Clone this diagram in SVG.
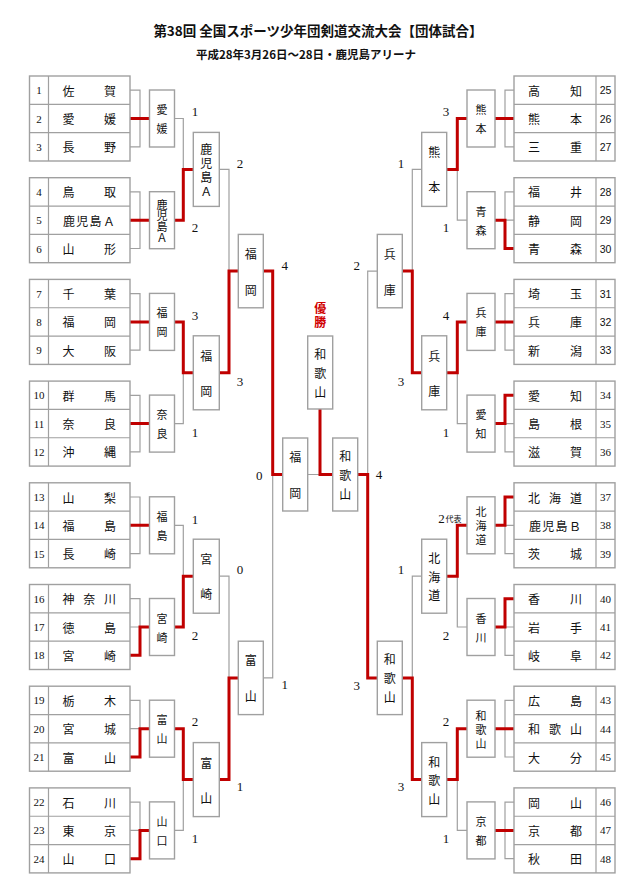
<svg xmlns="http://www.w3.org/2000/svg" xmlns:xlink="http://www.w3.org/1999/xlink" width="640" height="893" viewBox="0 0 640 893">
<style>
.g{fill:none;stroke:#a0a0a0;stroke-width:1.2}
.r{fill:none;stroke:#c00000;stroke-width:3}
.bx{fill:#fff;stroke:#a0a0a0;stroke-width:1.4}
.tb{fill:#fff;stroke:#a0a0a0;stroke-width:1.4}
.jp{font-family:"Noto Sans CJK JP",sans-serif;font-size:12px;fill:#111;text-anchor:middle;dominant-baseline:central}
.s11{font-size:11px}
.num{font-family:"Liberation Serif",serif;font-size:11px;fill:#111;text-anchor:middle;dominant-baseline:central}
.ns{font-family:"Liberation Sans",sans-serif;font-size:10.5px}
.sc{font-family:"Liberation Serif",serif;font-size:13px;fill:#111;text-anchor:middle;dominant-baseline:central}
.ttl{font-family:"Noto Sans CJK JP",sans-serif;font-weight:700;fill:#111;text-anchor:middle}
</style>
<defs>
<g id="tl"><rect class="tb" x="0" y="0" width="100.5" height="85"/><path class="g" d="M0 28.33H100.5M0 56.67H100.5M19 0V85"/></g>
<g id="tr"><rect class="tb" x="0" y="0" width="101" height="85"/><path class="g" d="M0 28.33H101M0 56.67H101M82 0V85"/></g>
</defs>

<g id="title">
<text class="ttl" x="318" y="36" font-size="13.5">第38回 全国スポーツ少年団剣道交流大会【団体試合】</text>
<text class="ttl" x="306" y="59" font-size="11.5">平成28年3月26日～28日・鹿児島アリーナ</text>
</g>

<g id="connectors">
<path class="g" d="M130 90.2H140V146.8H130M130 118.5H149.5
M130 191.9H140V248.5H130M130 220.2H149.5
M130 293.6H140V350.2H130M130 321.9H149.5
M130 395.3H140V451.9H130M130 423.6H149.5
M130 497H140V553.6H130M130 525.3H149.5
M130 598.7H140V655.3H130M130 627H149.5
M130 700.4H140V757H130M130 728.7H149.5
M130 802.1H140V858.7H130M130 830.4H149.5"/>
<path class="g" d="M514 90.2H505V146.8H514M514 118.5H495
M514 191.9H505V248.5H514M514 220.2H495
M514 293.6H505V350.2H514M514 321.9H495
M514 395.3H505V451.9H514M514 423.6H495
M514 497H505V553.6H514M514 525.3H495
M514 598.7H505V655.3H514M514 627H495
M514 700.4H505V757H514M514 728.7H495
M514 802.1H505V858.7H514M514 830.4H495"/>
<path class="g" d="M174.5 118.5H183.3V220.2H174.5M183.3 169.4H193.3
M174.5 321.9H183.3V423.6H174.5M183.3 372.8H193.3
M174.5 525.3H183.3V627H174.5M183.3 576.2H193.3
M174.5 728.7H183.3V830.4H174.5M183.3 779.6H193.3
M219.3 169.4H229V372.8H219.3M229 271.1H238.3
M219.3 576.2H229V779.6H219.3M229 677.9H238.3
M263.3 271.1H272.7V677.9H263.3M272.7 474.5H282.7
M307.7 474.5H320"/>
<path class="g" d="M467 118.5H457.3V220.2H467M457.3 169.4H446.7
M467 321.9H457.3V423.6H467M457.3 372.8H446.7
M467 525.3H457.3V627H467M457.3 576.2H446.7
M467 728.7H457.3V830.4H467M457.3 779.6H446.7
M421.7 169.4H412.3V372.8H421.7M412.3 271.1H402.3
M421.7 576.2H412.3V779.6H421.7M412.3 677.9H402.3
M377.3 271.1H367.7V677.9H377.3M367.7 474.5H357.7"/>
<path class="r" d="M130 118.5H149.5M130 220.2H149.5M130 321.9H149.5M130 423.6H149.5M130 525.3H149.5
M130 655.3H140V627H149.5M130 757H140V728.7H149.5M130 858.7H140V830.4H149.5
M174.5 220.2H183.3V169.4H193.3M174.5 321.9H183.3V372.8H193.3M174.5 627H183.3V576.2H193.3M174.5 728.7H183.3V779.6H193.3
M219.3 372.8H229V271.1H238.3M219.3 779.6H229V677.9H238.3
M263.3 271.1H272.7V474.5H282.7"/>
<path class="r" d="M514 118.5H495M514 248.5H505V220.2H495M514 321.9H495M514 395.3H505V423.6H495M514 497H505V525.3H495M514 598.7H505V627H495M514 728.7H495M514 830.4H495
M467 118.5H457.3V169.4H446.7M467 321.9H457.3V372.8H446.7M467 525.3H457.3V576.2H446.7M467 728.7H457.3V779.6H446.7
M421.7 372.8H412.3V271.1H402.3M421.7 779.6H412.3V677.9H402.3
M377.3 677.9H367.7V474.5H357.7
M332.7 474.5H320V409"/>
</g>

<g id="scores">
<text class="sc" x="195" y="111.5">1</text><text class="sc" x="195" y="227.5">2</text>
<text class="sc" x="195" y="315">3</text><text class="sc" x="195" y="432">1</text>
<text class="sc" x="195" y="519">1</text><text class="sc" x="195" y="635">2</text>
<text class="sc" x="195" y="721.7">2</text><text class="sc" x="195" y="838.4">1</text>
<text class="sc" x="240" y="163">2</text><text class="sc" x="240" y="381.7">3</text>
<text class="sc" x="240" y="569">0</text><text class="sc" x="240" y="786.7">1</text>
<text class="sc" x="284.7" y="265.7">4</text><text class="sc" x="284.7" y="684.3">1</text>
<text class="sc" x="259.3" y="475">0</text><text class="sc" x="379" y="474.7">4</text>
<text class="sc" x="446" y="111.5">3</text><text class="sc" x="446" y="227.5">1</text>
<text class="sc" x="446" y="315">4</text><text class="sc" x="446" y="432">1</text>
<text class="sc" x="441.5" y="518">2</text><text class="jp" x="453.5" y="518.5" style="font-size:8px">代表</text>
<text class="sc" x="446" y="635">2</text>
<text class="sc" x="446" y="721.7">2</text><text class="sc" x="446" y="838.4">1</text>
<text class="sc" x="401" y="163">1</text><text class="sc" x="401" y="381">3</text>
<text class="sc" x="401" y="569.3">1</text><text class="sc" x="401" y="786.7">3</text>
<text class="sc" x="356.7" y="265">2</text><text class="sc" x="356.7" y="685">3</text>
</g>

<g id="teams-01-03"><use xlink:href="#tl" x="29.5" y="76"/>
<text class="num" x="39" y="90.2">1</text><text class="num" x="39" y="118.5">2</text><text class="num" x="39" y="146.8">3</text>
<text class="jp" x="68.5 110" y="90.2">佐賀</text><text class="jp" x="68.5 110" y="118.5">愛媛</text><text class="jp" x="68.5 110" y="146.8">長野</text></g>
<g id="teams-04-06"><use xlink:href="#tl" x="29.5" y="177.7"/>
<text class="num" x="39" y="191.9">4</text><text class="num" x="39" y="220.2">5</text><text class="num" x="39" y="248.5">6</text>
<text class="jp" x="68.5 110" y="191.9">鳥取</text><text class="jp" x="69 82.3 95.6 109" y="220.2">鹿児島Ａ</text><text class="jp" x="68.5 110" y="248.5">山形</text></g>
<g id="teams-07-09"><use xlink:href="#tl" x="29.5" y="279.4"/>
<text class="num" x="39" y="293.6">7</text><text class="num" x="39" y="321.9">8</text><text class="num" x="39" y="350.2">9</text>
<text class="jp" x="68.5 110" y="293.6">千葉</text><text class="jp" x="68.5 110" y="321.9">福岡</text><text class="jp" x="68.5 110" y="350.2">大阪</text></g>
<g id="teams-10-12"><use xlink:href="#tl" x="29.5" y="381.1"/>
<text class="num" x="39" y="395.3">10</text><text class="num" x="39" y="423.6">11</text><text class="num" x="39" y="451.9">12</text>
<text class="jp" x="68.5 110" y="395.3">群馬</text><text class="jp" x="68.5 110" y="423.6">奈良</text><text class="jp" x="68.5 110" y="451.9">沖縄</text></g>
<g id="teams-13-15"><use xlink:href="#tl" x="29.5" y="482.8"/>
<text class="num" x="39" y="497">13</text><text class="num" x="39" y="525.3">14</text><text class="num" x="39" y="553.6">15</text>
<text class="jp" x="68.5 110" y="497">山梨</text><text class="jp" x="68.5 110" y="525.3">福島</text><text class="jp" x="68.5 110" y="553.6">長崎</text></g>
<g id="teams-16-18"><use xlink:href="#tl" x="29.5" y="584.5"/>
<text class="num" x="39" y="598.7">16</text><text class="num" x="39" y="627">17</text><text class="num" x="39" y="655.3">18</text>
<text class="jp" x="68.5 89.3 110" y="598.7">神奈川</text><text class="jp" x="68.5 110" y="627">徳島</text><text class="jp" x="68.5 110" y="655.3">宮崎</text></g>
<g id="teams-19-21"><use xlink:href="#tl" x="29.5" y="686.2"/>
<text class="num" x="39" y="700.4">19</text><text class="num" x="39" y="728.7">20</text><text class="num" x="39" y="757">21</text>
<text class="jp" x="68.5 110" y="700.4">栃木</text><text class="jp" x="68.5 110" y="728.7">宮城</text><text class="jp" x="68.5 110" y="757">富山</text></g>
<g id="teams-22-24"><use xlink:href="#tl" x="29.5" y="787.9"/>
<text class="num" x="39" y="802.1">22</text><text class="num" x="39" y="830.4">23</text><text class="num" x="39" y="858.7">24</text>
<text class="jp" x="68.5 110" y="802.1">石川</text><text class="jp" x="68.5 110" y="830.4">東京</text><text class="jp" x="68.5 110" y="858.7">山口</text></g>

<g id="teams-25-27"><use xlink:href="#tr" x="514" y="76"/>
<text class="num ns" x="605.5" y="90.2">25</text><text class="num ns" x="605.5" y="118.5">26</text><text class="num ns" x="605.5" y="146.8">27</text>
<text class="jp" x="534 576" y="90.2">高知</text><text class="jp" x="534 576" y="118.5">熊本</text><text class="jp" x="534 576" y="146.8">三重</text></g>
<g id="teams-28-30"><use xlink:href="#tr" x="514" y="177.7"/>
<text class="num ns" x="605.5" y="191.9">28</text><text class="num ns" x="605.5" y="220.2">29</text><text class="num ns" x="605.5" y="248.5">30</text>
<text class="jp" x="534 576" y="191.9">福井</text><text class="jp" x="534 576" y="220.2">静岡</text><text class="jp" x="534 576" y="248.5">青森</text></g>
<g id="teams-31-33"><use xlink:href="#tr" x="514" y="279.4"/>
<text class="num ns" x="605.5" y="293.6">31</text><text class="num ns" x="605.5" y="321.9">32</text><text class="num ns" x="605.5" y="350.2">33</text>
<text class="jp" x="534 576" y="293.6">埼玉</text><text class="jp" x="534 576" y="321.9">兵庫</text><text class="jp" x="534 576" y="350.2">新潟</text></g>
<g id="teams-34-36"><use xlink:href="#tr" x="514" y="381.1"/>
<text class="num" x="605.5" y="395.3">34</text><text class="num" x="605.5" y="423.6">35</text><text class="num" x="605.5" y="451.9">36</text>
<text class="jp" x="534 576" y="395.3">愛知</text><text class="jp" x="534 576" y="423.6">島根</text><text class="jp" x="534 576" y="451.9">滋賀</text></g>
<g id="teams-37-39"><use xlink:href="#tr" x="514" y="482.8"/>
<text class="num" x="605.5" y="497">37</text><text class="num" x="605.5" y="525.3">38</text><text class="num" x="605.5" y="553.6">39</text>
<text class="jp" x="534 555 576" y="497">北海道</text><text class="jp" x="535 548.3 561.6 575" y="525.3">鹿児島Ｂ</text><text class="jp" x="534 576" y="553.6">茨城</text></g>
<g id="teams-40-42"><use xlink:href="#tr" x="514" y="584.5"/>
<text class="num" x="605.5" y="598.7">40</text><text class="num" x="605.5" y="627">41</text><text class="num" x="605.5" y="655.3">42</text>
<text class="jp" x="534 576" y="598.7">香川</text><text class="jp" x="534 576" y="627">岩手</text><text class="jp" x="534 576" y="655.3">岐阜</text></g>
<g id="teams-43-45"><use xlink:href="#tr" x="514" y="686.2"/>
<text class="num" x="605.5" y="700.4">43</text><text class="num" x="605.5" y="728.7">44</text><text class="num" x="605.5" y="757">45</text>
<text class="jp" x="534 576" y="700.4">広島</text><text class="jp" x="534 555 576" y="728.7">和歌山</text><text class="jp" x="534 576" y="757">大分</text></g>
<g id="teams-46-48"><use xlink:href="#tr" x="514" y="787.9"/>
<text class="num" x="605.5" y="802.1">46</text><text class="num" x="605.5" y="830.4">47</text><text class="num" x="605.5" y="858.7">48</text>
<text class="jp" x="534 576" y="802.1">岡山</text><text class="jp" x="534 576" y="830.4">京都</text><text class="jp" x="534 576" y="858.7">秋田</text></g>

<g id="L1-1"><rect class="bx" x="149.5" y="90" width="25" height="57"/><text class="jp s11" x="162 162" y="109 128">愛媛</text></g>
<g id="L1-2"><rect class="bx" x="149.5" y="191.7" width="25" height="57"/><text class="jp s11" x="162 162 162 162" y="203.7 214.7 225.7 236.7">鹿児島Ａ</text></g>
<g id="L1-3"><rect class="bx" x="149.5" y="293.4" width="25" height="57"/><text class="jp s11" x="162 162" y="312.4 331.4">福岡</text></g>
<g id="L1-4"><rect class="bx" x="149.5" y="395.1" width="25" height="57"/><text class="jp s11" x="162 162" y="414.1 433.1">奈良</text></g>
<g id="L1-5"><rect class="bx" x="149.5" y="496.8" width="25" height="57"/><text class="jp s11" x="162 162" y="515.8 534.8">福島</text></g>
<g id="L1-6"><rect class="bx" x="149.5" y="598.5" width="25" height="57"/><text class="jp s11" x="162 162" y="617.5 636.5">宮崎</text></g>
<g id="L1-7"><rect class="bx" x="149.5" y="700.2" width="25" height="57"/><text class="jp s11" x="162 162" y="719.2 738.2">富山</text></g>
<g id="L1-8"><rect class="bx" x="149.5" y="801.9" width="25" height="57"/><text class="jp s11" x="162 162" y="820.9 839.9">山口</text></g>
<g id="R1-1"><rect class="bx" x="467" y="90" width="28" height="57"/><text class="jp s11" x="481 481" y="109 128">熊本</text></g>
<g id="R1-2"><rect class="bx" x="467" y="191.7" width="28" height="57"/><text class="jp s11" x="481 481" y="210.7 229.7">青森</text></g>
<g id="R1-3"><rect class="bx" x="467" y="293.4" width="28" height="57"/><text class="jp s11" x="481 481" y="312.4 331.4">兵庫</text></g>
<g id="R1-4"><rect class="bx" x="467" y="395.1" width="28" height="57"/><text class="jp s11" x="481 481" y="414.1 433.1">愛知</text></g>
<g id="R1-5"><rect class="bx" x="467" y="496.8" width="28" height="57"/><text class="jp s11" x="481 481 481" y="511.3 525.3 539.3">北海道</text></g>
<g id="R1-6"><rect class="bx" x="467" y="598.5" width="28" height="57"/><text class="jp s11" x="481 481" y="617.5 636.5">香川</text></g>
<g id="R1-7"><rect class="bx" x="467" y="700.2" width="28" height="57"/><text class="jp s11" x="481 481 481" y="714.7 728.7 742.7">和歌山</text></g>
<g id="R1-8"><rect class="bx" x="467" y="801.9" width="28" height="57"/><text class="jp s11" x="481 481" y="820.9 839.9">京都</text></g>
<g id="L2-1"><rect class="bx" x="193.3" y="132.4" width="26" height="74"/><text class="jp" x="206.3 206.3 206.3 206.3" y="148.4 162.4 176.4 190.4">鹿児島Ａ</text></g>
<g id="L2-2"><rect class="bx" x="193.3" y="335.8" width="26" height="74"/><text class="jp" x="206.3 206.3" y="355.3 390.3">福岡</text></g>
<g id="L2-3"><rect class="bx" x="193.3" y="539.2" width="26" height="74"/><text class="jp" x="206.3 206.3" y="558.7 593.7">宮崎</text></g>
<g id="L2-4"><rect class="bx" x="193.3" y="742.6" width="26" height="74"/><text class="jp" x="206.3 206.3" y="762.1 797.1">富山</text></g>
<g id="R2-1"><rect class="bx" x="421.7" y="132.4" width="25" height="74"/><text class="jp" x="434.2 434.2" y="151.9 186.9">熊本</text></g>
<g id="R2-2"><rect class="bx" x="421.7" y="335.8" width="25" height="74"/><text class="jp" x="434.2 434.2" y="355.3 390.3">兵庫</text></g>
<g id="R2-3"><rect class="bx" x="421.7" y="539.2" width="25" height="74"/><text class="jp" x="434.2 434.2 434.2" y="557.7 576.2 594.7">北海道</text></g>
<g id="R2-4"><rect class="bx" x="421.7" y="742.6" width="25" height="74"/><text class="jp" x="434.2 434.2 434.2" y="761.1 779.6 798.1">和歌山</text></g>
<g id="L3-1"><rect class="bx" x="238.3" y="234.4" width="25" height="73.4"/><text class="jp" x="250.8 250.8" y="253.1 289.1">福岡</text></g>
<g id="L3-2"><rect class="bx" x="238.3" y="641.2" width="25" height="73.4"/><text class="jp" x="250.8 250.8" y="659.9 695.9">富山</text></g>
<g id="R3-1"><rect class="bx" x="377.3" y="234.4" width="25" height="73.4"/><text class="jp" x="389.8 389.8" y="253.1 289.1">兵庫</text></g>
<g id="R3-2"><rect class="bx" x="377.3" y="641.2" width="25" height="73.4"/><text class="jp" x="389.8 389.8 389.8" y="658.9 677.9 696.9">和歌山</text></g>
<g id="SF-L"><rect class="bx" x="282.7" y="438" width="25" height="73"/><text class="jp" x="295.2 295.2" y="456.5 492.5">福岡</text></g>
<g id="SF-R"><rect class="bx" x="332.7" y="438" width="25" height="73"/><text class="jp" x="345.2 345.2 345.2" y="455.5 474.5 493.5">和歌山</text></g>
<g id="champion"><text class="jp" x="320.2 320.2" y="307 321" style="fill:#d00000;font-weight:700">優勝</text><rect class="bx" x="307.7" y="336" width="25" height="73"/><text class="jp" x="320.2 320.2 320.2" y="353.5 372.5 391.5">和歌山</text></g>
</svg>
